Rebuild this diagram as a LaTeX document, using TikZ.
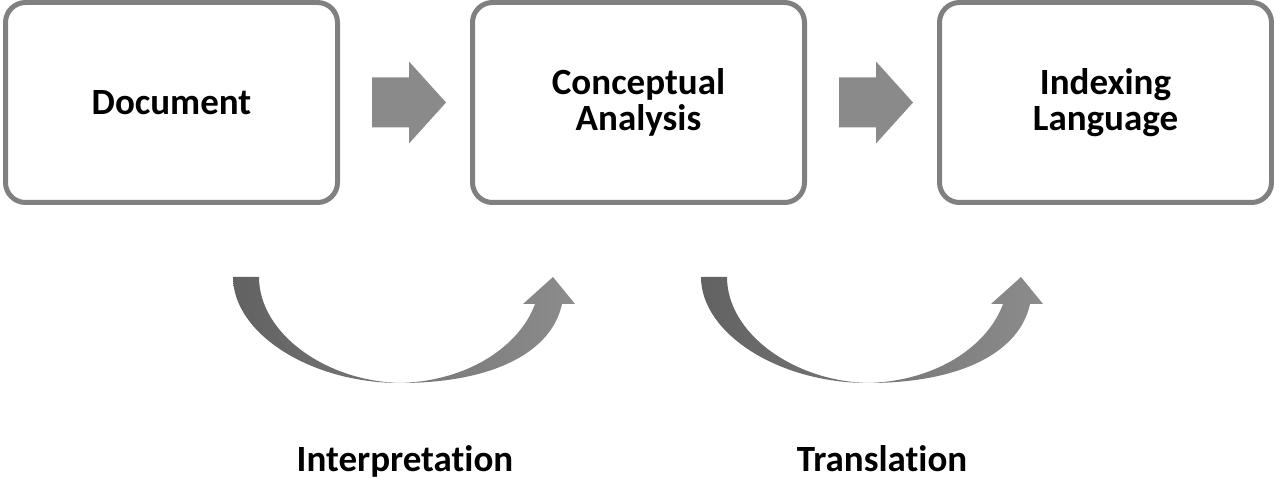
\documentclass[tikz,border=0pt]{standalone}
\usepackage{fontspec}
\setmainfont[Ligatures=NoCommon]{Carlito}
\usetikzlibrary{positioning, calc}
\definecolor{frameGray}{RGB}{128,128,128}
\definecolor{blockGray}{RGB}{138,138,138}
\definecolor{curveDark}{RGB}{98,98,98}
\definecolor{curveLight}{RGB}{140,140,140}
\tikzset{
  stage/.style={draw=frameGray, line width=5pt, rounded corners=20pt, fill=white,
    minimum width=332pt, minimum height=200pt, outer sep=0pt, align=center,
    font=\fontsize{37}{36}\selectfont\bfseries},
  caption/.style={anchor=base, font=\fontsize{37}{36}\selectfont\bfseries},
  blockfill/.style={fill=blockGray},
  curvefill/.style={left color=curveDark, right color=curveLight},
  % curved arrow, origin at its lowest point
  uarrow/.pic={
    \shade[curvefill] (-167,-106) .. controls (-167,-50) and (-90,0) .. (0,0)
      .. controls (95,0) and (152,-32) .. (162,-79) -- (175,-79) -- (153,-106)
      -- (123,-79) -- (135,-79) .. controls (120,-38) and (70,-2) .. (0,0)
      .. controls (-75,-2) and (-141,-50) .. (-141,-106) -- cycle;
  }
}
% block arrow centred on a coordinate
\newcommand{\BlockArrow}[1]{%
  \fill[blockfill] ($(#1)+(-37,-25)$) -- ++(37,0) -- ++(0,-16) -- ++(37,41)
    -- ++(-37,41) -- ++(0,-16) -- ++(-37,0) -- cycle;
}

\begin{document}
\begin{tikzpicture}[x=1pt, y=-1pt]
  \useasboundingbox (0,0) rectangle (1274,478);

  % the three stages
  \node[stage] (doc) at (171.5,102.5) {Document};
  \node[stage, right=135pt of doc] (concept) {Conceptual\\Analysis};
  \node[stage, right=135pt of concept] (lang) {Indexing\\Language};

  % block arrows between the stages
  \coordinate (g1) at ($(doc.east)!0.5!(concept.west)+(4,0)$);
  \coordinate (g2) at ($(concept.east)!0.5!(lang.west)+(4,0)$);
  \BlockArrow{g1}
  \BlockArrow{g2}

  % curved arrows and their captions
  \pic at (400,383) {uarrow};
  \pic at (868,383) {uarrow};
  \node[caption] (interp) at (405,471) {Interpretation};
  \node[caption] (transl) at (882,471) {Translation};
\end{tikzpicture}
\end{document}
